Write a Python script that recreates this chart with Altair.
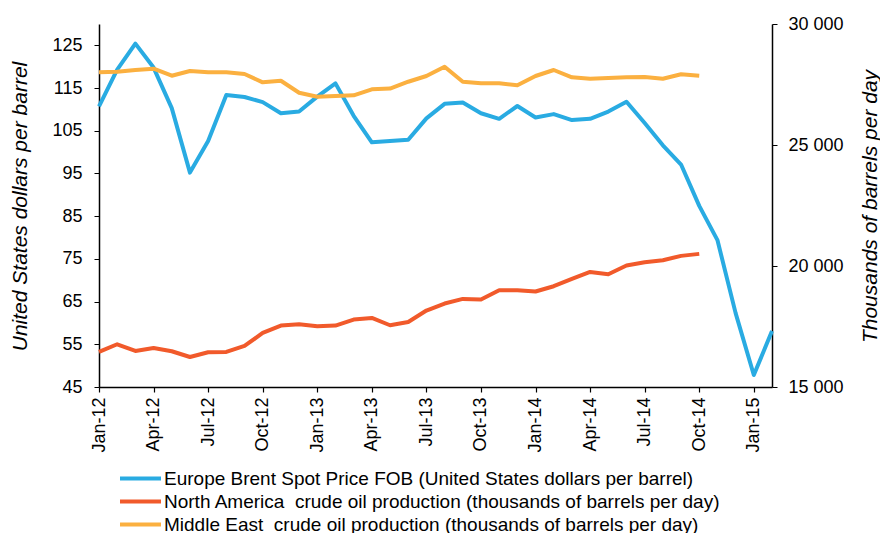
import altair as alt
import pandas as pd

months = ["Jan-12", "Feb-12", "Mar-12", "Apr-12", "May-12", "Jun-12", "Jul-12", "Aug-12",
          "Sep-12", "Oct-12", "Nov-12", "Dec-12", "Jan-13", "Feb-13", "Mar-13", "Apr-13",
          "May-13", "Jun-13", "Jul-13", "Aug-13", "Sep-13", "Oct-13", "Nov-13", "Dec-13",
          "Jan-14", "Feb-14", "Mar-14", "Apr-14", "May-14", "Jun-14", "Jul-14", "Aug-14",
          "Sep-14", "Oct-14", "Nov-14", "Dec-14", "Jan-15", "Feb-15"]

brent = [110.7, 119.3, 125.4, 119.8, 110.3, 95.2, 102.6, 113.4, 112.9, 111.7, 109.1, 109.5,
         113.0, 116.1, 108.5, 102.3, 102.6, 102.9, 107.9, 111.3, 111.6, 109.1, 107.8, 110.8,
         108.1, 108.9, 107.5, 107.8, 109.5, 111.8, 106.8, 101.6, 97.1, 87.4, 79.4, 62.3,
         47.8, 58.1]

north_america = [16448, 16766, 16489, 16613, 16477, 16241, 16435, 16448, 16696, 17233,
                 17540, 17593, 17511, 17540, 17788, 17854, 17552, 17688, 18160, 18449,
                 18640, 18615, 19000, 19000, 18946, 19165, 19467, 19756, 19661, 20021,
                 20158, 20240, 20418, 20501]

middle_east = [28004, 28028, 28099, 28152, 27863, 28057, 28004, 28004, 27933, 27590,
               27656, 27160, 26994, 27023, 27052, 27300, 27333, 27615, 27851, 28235,
               27615, 27549, 27549, 27466, 27851, 28099, 27797, 27739, 27768, 27797,
               27809, 27739, 27921, 27863]

series_names = [
    "Europe Brent Spot Price FOB (United States dollars per barrel)",
    "North America\u00a0 crude oil production (thousands of barrels per day)",
    "Middle East\u00a0 crude oil production (thousands of barrels per day)",
]
series_colors = ["#29ABE2", "#F15A2B", "#FBB040"]

tick_months = months[::3]

rows = []
for m, v in zip(months, brent):
    rows.append({"month": m, "series": series_names[0], "value": v})
for m, v in zip(months, north_america):
    rows.append({"month": m, "series": series_names[1], "value": v})
for m, v in zip(months, middle_east):
    rows.append({"month": m, "series": series_names[2], "value": v})
df = pd.DataFrame(rows)

FONT = "Liberation Sans"
LABEL_SIZE = 18
TITLE_SIZE = 21

x_enc = alt.X(
    "month:O",
    sort=months,
    scale=alt.Scale(type="point", padding=0, domain=months),
    axis=alt.Axis(
        title=None, values=tick_months, labelAngle=-90, labelFontSize=LABEL_SIZE,
        labelFont=FONT, labelColor="black", tickSize=5, tickColor="black",
        domainColor="black", domainWidth=1.5, tickWidth=1.2, labelPadding=5,
    ),
)

color_enc = alt.Color(
    "series:N",
    scale=alt.Scale(domain=series_names, range=series_colors),
    legend=alt.Legend(
        title=None, orient="none", legendX=29, legendY=442,
        symbolType="M-2,0H2", symbolSize=420, symbolStrokeWidth=4,
        labelFontSize=19, labelFont=FONT, labelColor="black", rowPadding=0,
        labelOffset=11, padding=0, labelLimit=800,
    ),
)

left = alt.Chart(df).transform_filter(
    alt.datum.series == series_names[0]
).mark_line(strokeWidth=4, strokeJoin="round").encode(
    x=x_enc,
    y=alt.Y(
        "value:Q",
        scale=alt.Scale(domain=[45, 130], nice=False, zero=False),
        axis=alt.Axis(
            title="United States dollars per barrel", values=[45, 55, 65, 75, 85, 95, 105, 115, 125],
            labelFontSize=LABEL_SIZE, labelFont=FONT, labelColor="black", grid=False,
            tickSize=5, tickColor="black", domainColor="black", domainWidth=1.5,
            labelPadding=12, titleFont=FONT, titleFontSize=TITLE_SIZE, titleFontStyle="italic",
            titleFontWeight="normal", titleColor="black", titleX=-79, titleY=182,
            titleBaseline="middle", titleAngle=270,
        ),
    ),
    color=color_enc,
)

right = alt.Chart(df).transform_filter(
    alt.datum.series != series_names[0]
).mark_line(strokeWidth=4, strokeJoin="round").encode(
    x=x_enc,
    y=alt.Y(
        "value:Q",
        scale=alt.Scale(domain=[15000, 30000], nice=False, zero=False),
        axis=alt.Axis(
            orient="right", title="Thousands of barrels per day",
            values=[15000, 20000, 25000, 30000],
            labelExpr="replace(format(datum.value, ','), ',', ' ')",
            labelFontSize=LABEL_SIZE, labelFont=FONT, labelColor="black", grid=False,
            tickSize=5, tickColor="black", domainColor="black", domainWidth=1.5,
            labelPadding=11, titleFont=FONT, titleFontSize=TITLE_SIZE, titleFontStyle="italic",
            titleFontWeight="normal", titleColor="black", titleX=98, titleY=182,
            titleBaseline="middle", titleAngle=270,
        ),
    ),
    color=color_enc,
)

chart = alt.layer(left, right).resolve_scale(y="independent").properties(
    width=673, height=363,
    autosize=alt.AutoSizeParams(type="none"),
    padding={"left": 91, "top": 16, "right": 108, "bottom": 146},
    background="white",
).configure_view(stroke=None)

chart.save("out.html", embed_options={"renderer": "svg", "actions": False})
